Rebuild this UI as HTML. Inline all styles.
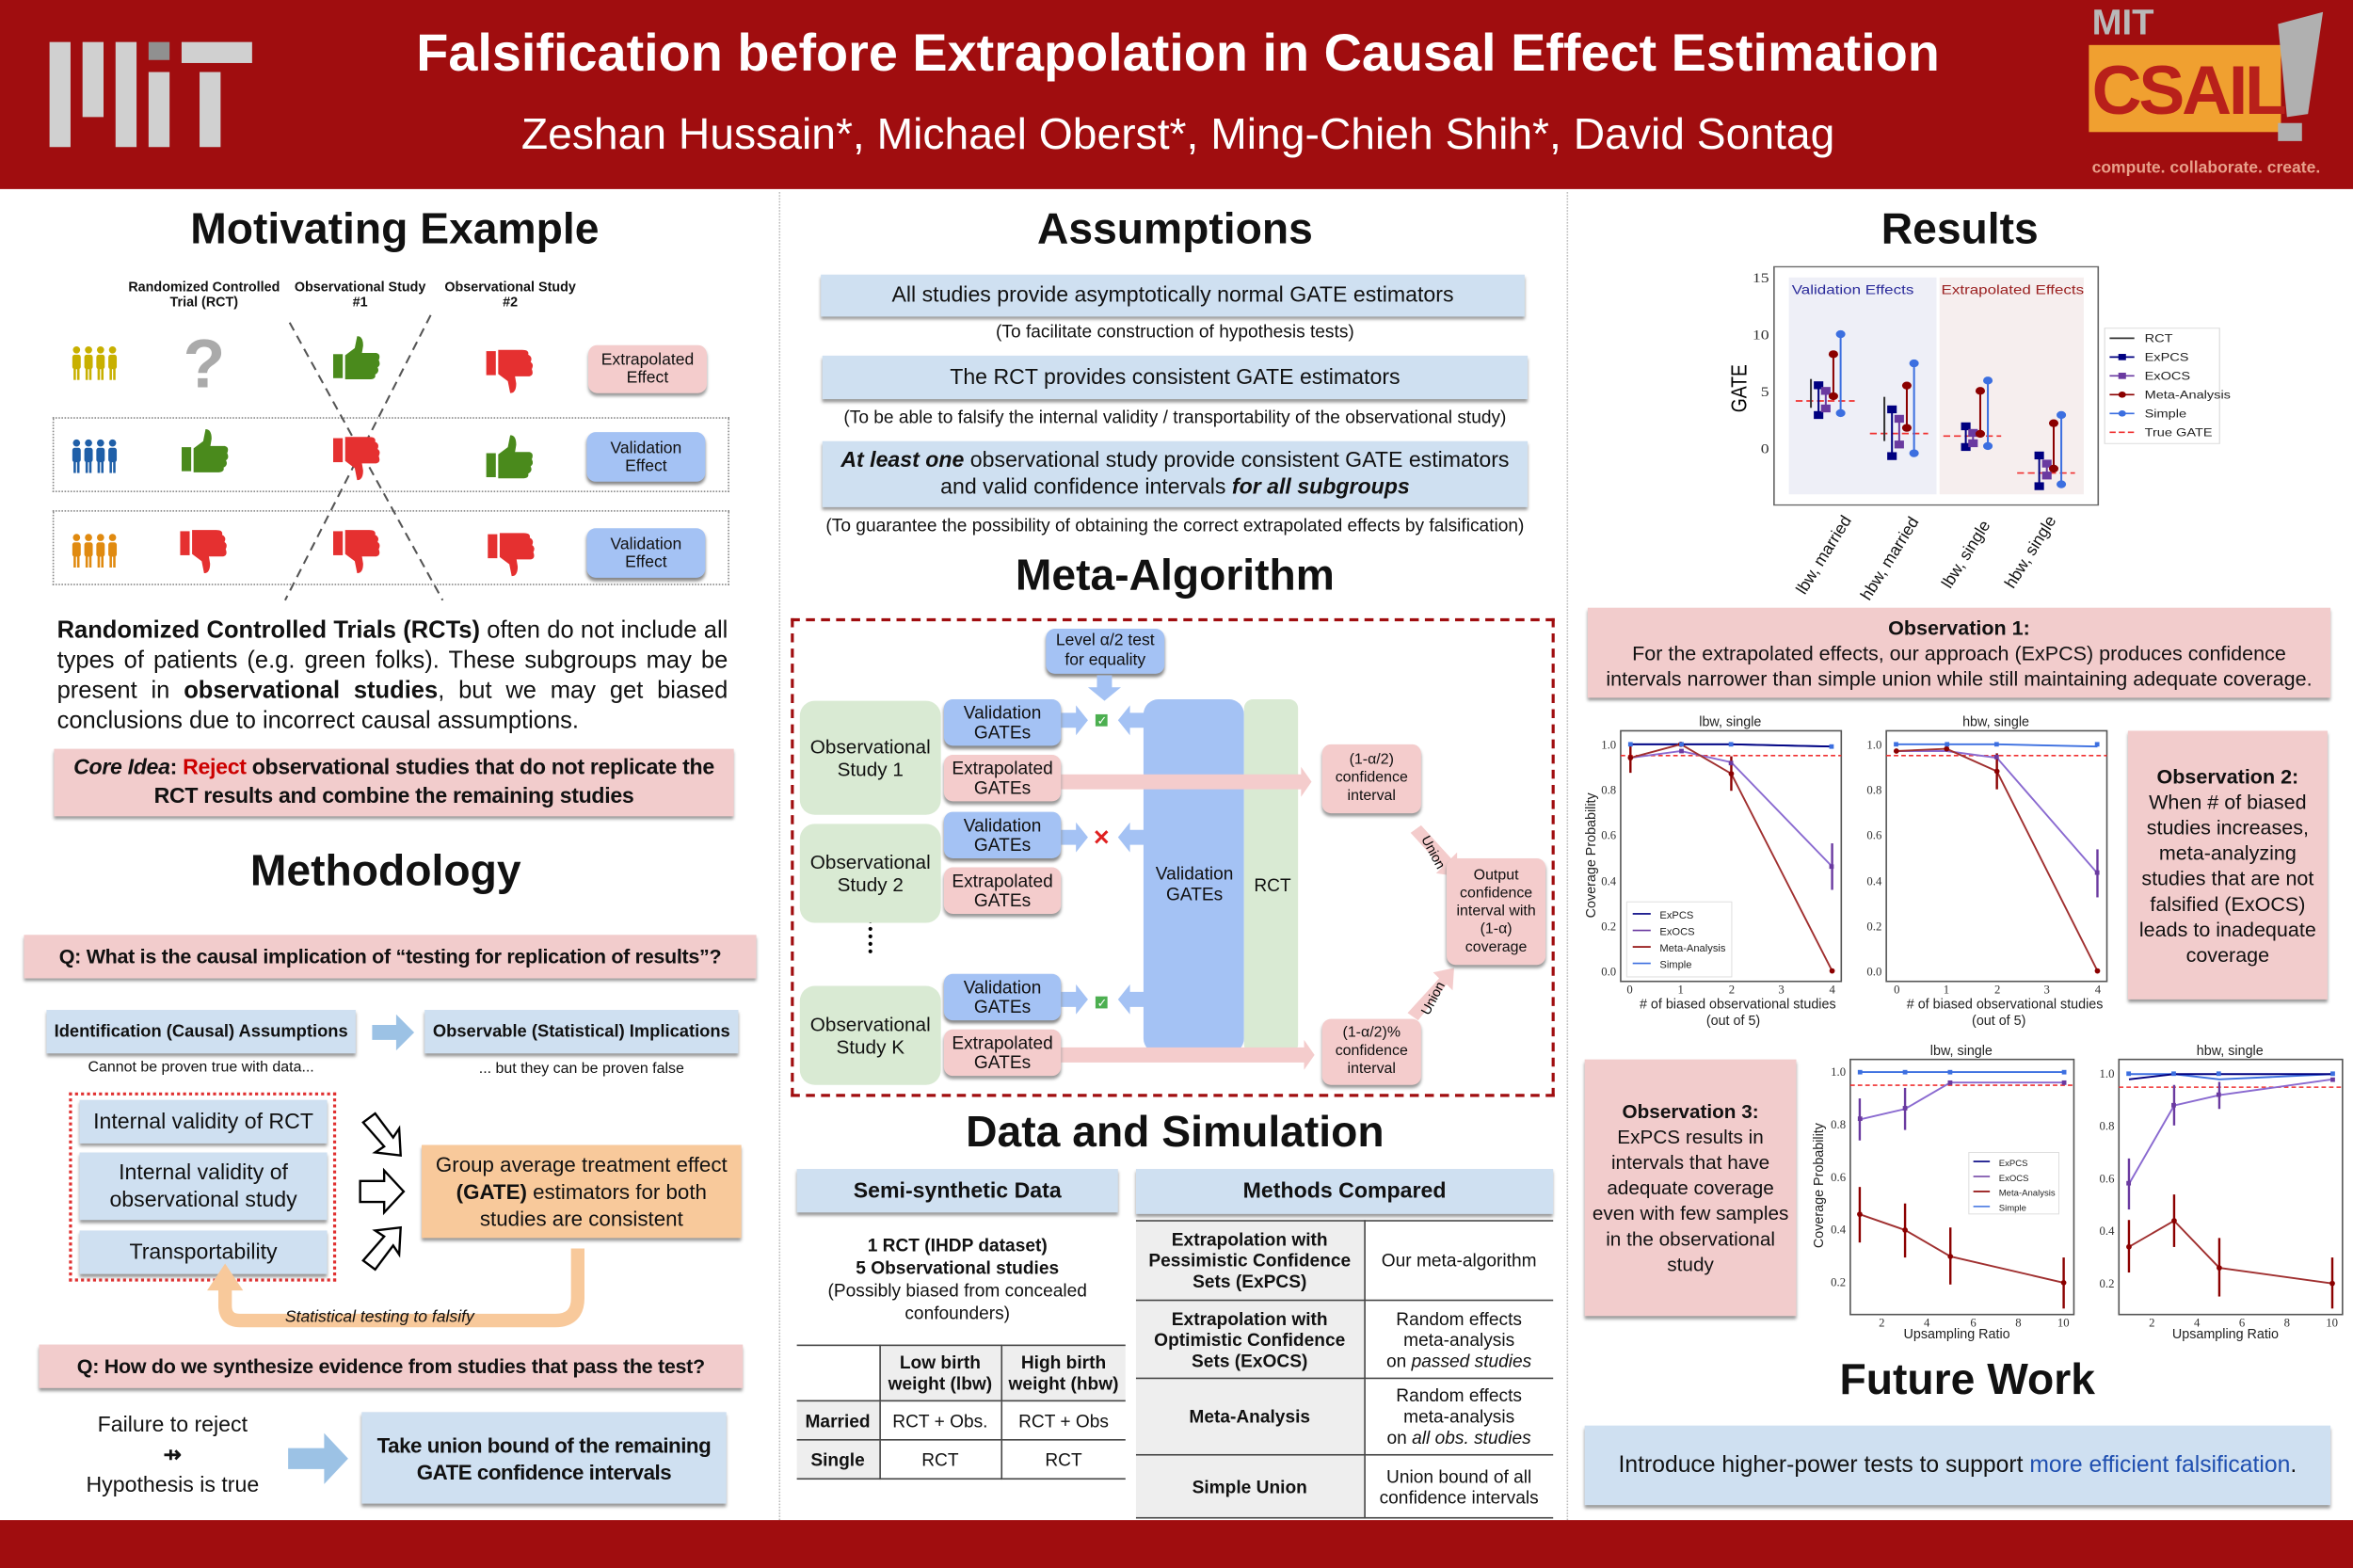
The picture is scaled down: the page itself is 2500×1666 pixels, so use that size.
<!DOCTYPE html>
<html><head><meta charset="utf-8"><style>
*{margin:0;padding:0;box-sizing:border-box}
html,body{width:2500px;height:1666px;overflow:hidden;background:#fff}
#w{position:absolute;left:0;top:0;width:1568px;height:1045px;transform:scale(1.594388);transform-origin:0 0;font-family:"Liberation Sans",sans-serif;color:#111}
.a{position:absolute}
.c{display:flex;align-items:center;justify-content:center;text-align:center}
.h{font-weight:bold;font-size:29px;text-align:center;position:absolute}
.bl{background:#cfe0f1;box-shadow:0 2px 2px #999}
.pk{background:#f2cccc;box-shadow:0 2px 2px #999}
.or{background:#f8c99b;box-shadow:0 2px 2px #999}
.gr{background:#d9ead3;border-radius:10px}
.b2{background:#a4c2f4;border-radius:6px;box-shadow:0 2px 2px #888}
.p2{background:#f4cccc;border-radius:6px;box-shadow:0 2px 2px #999}
.sm{font-size:12px}
table{border-collapse:collapse}
td{border:1px solid #444;text-align:center;font-size:12px}
</style></head><body><div id="w">
<svg width="0" height="0" style="position:absolute"><defs>
<symbol id="tu" viewBox="0 0 40 40"><rect x="0" y="15" width="8" height="20"/><path d="M10 16 L18 10 L20 0 Q25 0 25 8 L24 14 L36 14 Q40 15 38 20 Q40 24 37 26 Q39 30 35 32 Q36 36 30 36 L10 36 Z"/></symbol>
<symbol id="ppl" viewBox="0 0 40 30"><g><circle cx="5" cy="4" r="3"/><rect x="1.5" y="8" width="7" height="12" rx="2"/><rect x="2.5" y="18" width="2" height="11"/><rect x="5.5" y="18" width="2" height="11"/><circle cx="15" cy="4" r="3"/><rect x="11.5" y="8" width="7" height="12" rx="2"/><rect x="12.5" y="18" width="2" height="11"/><rect x="15.5" y="18" width="2" height="11"/><circle cx="25" cy="4" r="3"/><rect x="21.5" y="8" width="7" height="12" rx="2"/><rect x="22.5" y="18" width="2" height="11"/><rect x="25.5" y="18" width="2" height="11"/><circle cx="35" cy="4" r="3"/><rect x="31.5" y="8" width="7" height="12" rx="2"/><rect x="32.5" y="18" width="2" height="11"/><rect x="35.5" y="18" width="2" height="11"/></g></symbol>
</defs></svg>

<div class="a" style="left:0;top:0;width:1568px;height:126px;background:#a00d0f"></div>
<svg class="a" style="left:0;top:0" width="180" height="126">
<rect x="33" y="28" width="14" height="70" fill="#d0d0d0"/><rect x="55" y="28" width="14" height="50" fill="#d0d0d0"/><rect x="77" y="28" width="14" height="70" fill="#d0d0d0"/><rect x="99" y="28" width="14" height="12" fill="#909090"/><rect x="99" y="48" width="14" height="50" fill="#d0d0d0"/><rect x="121" y="28" width="47" height="14" fill="#d0d0d0"/><rect x="133" y="48" width="14" height="50" fill="#d0d0d0"/></svg>
<div class="a" style="left:200px;top:16px;width:1170px;text-align:center;color:#fff;font-weight:bold;font-size:35px">Falsification before Extrapolation in Causal Effect Estimation</div>
<div class="a" style="left:200px;top:74px;width:1170px;text-align:center;color:#fff;font-size:29px">Zeshan Hussain*, Michael Oberst*, Ming-Chieh Shih*, David Sontag</div>
<div class="a" style="left:1394px;top:2px;color:#b9b9b9;font-weight:bold;font-size:24px">MIT</div>
<div class="a" style="left:1392px;top:30px;width:128px;height:58px;background:#f0a030"></div>
<div class="a" style="left:1394px;top:33px;color:#b8201a;font-weight:bold;font-size:46px;letter-spacing:-2px">CSAIL</div>
<svg class="a" style="left:1510px;top:6px" width="40" height="90"><polygon points="8,10 38,2 28,70 14,72" fill="#b0b0b0"/><rect x="8" y="76" width="16" height="12" fill="#b0b0b0"/></svg>
<div class="a" style="left:1394px;top:106px;color:#e8a08a;font-size:11px;font-weight:bold">compute. collaborate. create.</div>

<div class="a" style="left:519px;top:128px;width:1px;height:885px;border-left:1px dotted #bbb"></div>
<div class="a" style="left:1044px;top:128px;width:1px;height:885px;border-left:1px dotted #bbb"></div>
<div class="a" style="left:0;top:1013px;width:1568px;height:32px;background:#a00d0f"></div>

<div class="h" style="left:0;top:137px;width:526px">Motivating Example</div>
<div class="a sm" style="left:84px;top:186px;width:104px;text-align:center;font-size:9px;font-weight:bold;line-height:10px">Randomized Controlled Trial (RCT)</div>
<div class="a sm" style="left:195px;top:186px;width:90px;text-align:center;font-size:9px;font-weight:bold;line-height:10px">Observational Study #1</div>
<div class="a sm" style="left:295px;top:186px;width:90px;text-align:center;font-size:9px;font-weight:bold;line-height:10px">Observational Study #2</div>
<div class="a" style="left:35px;top:278px;width:451px;height:50px;border:1px dotted #888"></div>
<div class="a" style="left:35px;top:340px;width:451px;height:50px;border:1px dotted #888"></div>
<svg class="a" style="left:0;top:200px" width="520" height="210">
<line x1="193" y1="15" x2="295" y2="200" stroke="#555" stroke-width="1.3" stroke-dasharray="6,4"/>
<line x1="287" y1="10" x2="190" y2="200" stroke="#555" stroke-width="1.3" stroke-dasharray="6,4"/>
<use href="#ppl" x="47" y="30" width="32" height="24" fill="#c8b000"/>
<use href="#ppl" x="47" y="92" width="32" height="24" fill="#1f5fa8"/>
<use href="#ppl" x="47" y="155" width="32" height="24" fill="#e08a10"/>
<text x="136" y="58" font-size="46" fill="#aaa" text-anchor="middle" font-family="Liberation Sans" font-weight="bold">?</text>
<use href="#tu" x="222" y="24" width="32" height="32" fill="#4a8a1c"/>
<use href="#tu" x="121" y="86" width="32" height="32" fill="#4a8a1c"/>
<use href="#tu" x="324" y="90" width="32" height="32" fill="#4a8a1c"/>
<g fill="#e53030">
<use href="#tu" x="324" y="30" width="32" height="32" transform="matrix(1,0,0,-1,0,92)"/>
<use href="#tu" x="222" y="88" width="32" height="32" transform="matrix(1,0,0,-1,0,208)"/>
<use href="#tu" x="120" y="150" width="32" height="32" transform="matrix(1,0,0,-1,0,332)"/>
<use href="#tu" x="222" y="150" width="32" height="32" transform="matrix(1,0,0,-1,0,332)"/>
<use href="#tu" x="325" y="152" width="32" height="32" transform="matrix(1,0,0,-1,0,336)"/>
</g></svg>
<div class="a c p2" style="left:392px;top:230px;width:79px;height:32px;font-size:11px;line-height:12px">Extrapolated<br>Effect</div>
<div class="a c b2" style="left:391px;top:288px;width:79px;height:33px;font-size:11px;line-height:12px">Validation<br>Effect</div>
<div class="a c b2" style="left:391px;top:352px;width:79px;height:33px;font-size:11px;line-height:12px">Validation<br>Effect</div>
<div class="a" style="left:38px;top:411px;width:447px;font-size:16px;line-height:20px;text-align:justify"><b>Randomized Controlled Trials (RCTs)</b> often do not include all types of patients (e.g. green folks). These subgroups may be present in <b>observational studies</b>, but we may get biased conclusions due to incorrect causal assumptions.</div>
<div class="a c pk" style="left:36px;top:499px;width:453px;height:45px;font-size:14.5px;line-height:19px;font-weight:bold;letter-spacing:-0.2px"><span><i>Core Idea</i>: <span style="color:#c00">Reject</span> observational studies that do not replicate the RCT results and combine the remaining studies</span></div>
<div class="h" style="left:0;top:565px;width:514px">Methodology</div>
<div class="a c pk" style="left:16px;top:623px;width:488px;height:29px;font-size:13.5px;font-weight:bold;letter-spacing:-0.2px;white-space:nowrap">Q: What is the causal implication of “testing for replication of results”?</div>
<div class="a c bl" style="left:31px;top:673px;width:206px;height:29px;font-size:11.5px;font-weight:bold">Identification (Causal) Assumptions</div>
<svg class="a" style="left:246px;top:676px" width="32" height="24"><polygon points="2,7 18,7 18,0 30,12 18,24 18,17 2,17" fill="#9cc2e5"/></svg>
<div class="a c bl" style="left:283px;top:673px;width:209px;height:29px;font-size:11.5px;font-weight:bold">Observable (Statistical) Implications</div>
<div class="a" style="left:31px;top:706px;width:206px;text-align:center;font-size:10px">Cannot be proven true with data...</div>
<div class="a" style="left:283px;top:707px;width:209px;text-align:center;font-size:10px">... but they can be proven false</div>
<div class="a" style="left:46px;top:728px;width:178px;height:126px;border:2px dotted #e03030"></div>
<div class="a c bl" style="left:53px;top:733px;width:165px;height:29px;font-size:14.5px">Internal validity of RCT</div>
<div class="a c bl" style="left:53px;top:768px;width:165px;height:45px;font-size:14.5px;line-height:18px">Internal validity of observational study</div>
<div class="a c bl" style="left:53px;top:820px;width:165px;height:29px;font-size:14.5px">Transportability</div>
<svg class="a" style="left:236px;top:740px" width="40" height="110">
<g fill="#fff" stroke="#000" stroke-width="1.5"><polygon points="6,8 14,2 26,18 30,12 31,30 14,28 20,24" /><polygon points="4,47 20,47 20,40 33,54 20,68 20,61 4,61"/><polygon points="6,100 14,106 26,90 30,96 31,78 14,80 20,84"/></g></svg>
<div class="a c or" style="left:281px;top:763px;width:213px;height:62px;font-size:14px;line-height:18px"><span>Group average treatment effect <b>(GATE)</b> estimators for both studies are consistent</span></div>
<svg class="a" style="left:130px;top:830px" width="270" height="60">
<path d="M255 2 L255 35 Q255 50 240 50 L30 50 Q20 50 20 40 L20 28" fill="none" stroke="#f8c99b" stroke-width="9"/>
<polygon points="8,30 20,12 32,30" fill="#f8c99b"/></svg>
<div class="a" style="left:190px;top:872px;font-size:11px;font-style:italic">Statistical testing to falsify</div>
<div class="a c pk" style="left:26px;top:896px;width:469px;height:29px;font-size:13.5px;font-weight:bold;letter-spacing:-0.2px;white-space:nowrap">Q: How do we synthesize evidence from studies that pass the test?</div>
<div class="a" style="left:40px;top:940px;width:150px;text-align:center;font-size:14.5px;line-height:20px">Failure to reject<br><b>⇸</b><br>Hypothesis is true</div>
<svg class="a" style="left:190px;top:955px" width="46" height="34"><polygon points="2,10 26,10 26,0 42,17 26,34 26,24 2,24" fill="#9cc2e5"/></svg>
<div class="a c bl" style="left:241px;top:941px;width:243px;height:61px;font-size:14px;line-height:18px;font-weight:bold;letter-spacing:-0.3px">Take union bound of the remaining<br>GATE confidence intervals</div>

<div class="h" style="left:522px;top:137px;width:522px">Assumptions</div>
<div class="a c bl" style="left:547px;top:183px;width:469px;height:28px;font-size:14.5px">All studies provide asymptotically normal GATE estimators</div>
<div class="a" style="left:522px;top:214px;width:522px;text-align:center;font-size:12px">(To facilitate construction of hypothesis tests)</div>
<div class="a c bl" style="left:548px;top:237px;width:470px;height:29px;font-size:14.5px">The RCT provides consistent GATE estimators</div>
<div class="a" style="left:522px;top:271px;width:522px;text-align:center;font-size:12px">(To be able to falsify the internal validity / transportability of the observational study)</div>
<div class="a c bl" style="left:548px;top:294px;width:470px;height:44px;font-size:14.5px;line-height:18px"><span><b><i>At least one</i></b> observational study provide consistent GATE estimators and valid confidence intervals <b><i>for all subgroups</i></b></span></div>
<div class="a" style="left:522px;top:343px;width:522px;text-align:center;font-size:12px">(To guarantee the possibility of obtaining the correct extrapolated effects by falsification)</div>
<div class="h" style="left:522px;top:368px;width:522px">Meta-Algorithm</div>
<div class="a" style="left:527px;top:412px;width:509px;height:319px;border:2.5px dashed #a00d0f"></div>
<div class="a c b2" style="left:697px;top:419px;width:79px;height:30px;font-size:11px;line-height:13px">Level α/2 test<br>for equality</div>
<svg class="a" style="left:527px;top:412px" width="509" height="319">
<polygon points="204,38 214,38 214,46 220,46 209,55 198,46 204,46" fill="#a4c2f4"/>
<g fill="#a4c2f4">
<polygon points="180,63 190,63 190,58 198,68 190,78 190,73 180,73"/><polygon points="236,63 226,63 226,58 218,68 226,78 226,73 236,73"/>
<polygon points="180,141 190,141 190,136 198,146 190,156 190,151 180,151"/><polygon points="236,141 226,141 226,136 218,146 226,156 226,151 236,151"/>
<polygon points="180,249 190,249 190,244 198,254 190,264 190,259 180,259"/><polygon points="236,249 226,249 226,244 218,254 226,264 226,259 236,259"/>
</g>
<rect x="235" y="54" width="67" height="236" rx="10" fill="#a4c2f4"/>
<rect x="302" y="54" width="36" height="236" rx="6" fill="#d9ead3"/>
<g fill="#f4cccc"><polygon points="170,104 340,104 340,99 347,109 340,119 340,114 170,114"/>
<polygon points="172,286 342,286 342,281 349,291 342,301 342,296 172,296"/>
<polygon points="413,143 420,138 440,160 444,156 444,172 430,170 434,166"/>
<polygon points="418,268 411,263 432,240 428,236 442,233 441,248 437,244"/></g>
<rect x="203" y="64" width="8" height="8" fill="#4caf50"/><text x="204" y="71" font-size="8" fill="#fff">✓</text>
<rect x="203" y="252" width="8" height="8" fill="#4caf50"/><text x="204" y="259" font-size="8" fill="#fff">✓</text>
<text x="207" y="151" font-size="14" fill="#e02020" text-anchor="middle" font-weight="bold">✕</text>
<g fill="#000"><circle cx="53" cy="202" r="1.3"/><circle cx="53" cy="207" r="1.3"/><circle cx="53" cy="212" r="1.3"/><circle cx="53" cy="217" r="1.3"/><circle cx="53" cy="222" r="1.3"/></g>
<text x="420" y="147" font-size="9" transform="rotate(62 420 147)">Union</text>
<text x="425" y="265" font-size="9" transform="rotate(-62 425 265)">Union</text>
</svg>
<div class="a c gr" style="left:533px;top:467px;width:94px;height:76px;font-size:13px;line-height:15px">Observational<br>Study 1</div>
<div class="a c gr" style="left:533px;top:549px;width:94px;height:66px;font-size:13px;line-height:15px">Observational<br>Study 2</div>
<div class="a c gr" style="left:533px;top:657px;width:94px;height:66px;font-size:13px;line-height:15px">Observational<br>Study K</div>
<div class="a c b2" style="left:629px;top:466px;width:78px;height:31px;font-size:12px;line-height:13px">Validation<br>GATEs</div>
<div class="a c p2" style="left:629px;top:503px;width:78px;height:31px;font-size:12px;line-height:13px">Extrapolated<br>GATEs</div>
<div class="a c b2" style="left:629px;top:541px;width:78px;height:31px;font-size:12px;line-height:13px">Validation<br>GATEs</div>
<div class="a c p2" style="left:629px;top:578px;width:78px;height:31px;font-size:12px;line-height:13px">Extrapolated<br>GATEs</div>
<div class="a c b2" style="left:629px;top:649px;width:78px;height:31px;font-size:12px;line-height:13px">Validation<br>GATEs</div>
<div class="a c p2" style="left:629px;top:686px;width:78px;height:31px;font-size:12px;line-height:13px">Extrapolated<br>GATEs</div>
<div class="a c" style="left:762px;top:575px;width:68px;font-size:12px;line-height:14px">Validation<br>GATEs</div>
<div class="a c" style="left:830px;top:583px;width:36px;font-size:12px">RCT</div>
<div class="a c p2" style="left:881px;top:496px;width:66px;height:46px;font-size:10px;line-height:12px">(1-α/2)<br>confidence<br>interval</div>
<div class="a c p2" style="left:881px;top:679px;width:66px;height:44px;font-size:10px;line-height:12px">(1-α/2)%<br>confidence<br>interval</div>
<div class="a c p2" style="left:964px;top:572px;width:66px;height:71px;font-size:10px;line-height:12px">Output<br>confidence<br>interval with<br>(1-α)<br>coverage</div>

<div class="h" style="left:522px;top:739px;width:522px">Data and Simulation</div>
<div class="a c bl" style="left:531px;top:779px;width:214px;height:29px;font-size:14.5px;font-weight:bold">Semi-synthetic Data</div>
<div class="a c bl" style="left:757px;top:779px;width:278px;height:30px;font-size:14.5px;font-weight:bold">Methods Compared</div>
<div class="a" style="left:531px;top:823px;width:214px;text-align:center;font-size:12px;line-height:15px"><b>1 RCT (IHDP dataset)<br>5 Observational studies</b><br>(Possibly biased from concealed confounders)</div>
<table class="a" style="left:531px;top:896px;width:219px;border-left:none;border-right:none">
<tr style="height:37px"><td style="border-left:none;width:55px"></td><td style="background:#eee;font-weight:bold;width:81px">Low birth weight (lbw)</td><td style="background:#eee;font-weight:bold;border-right:none">High birth weight (hbw)</td></tr>
<tr style="height:26px"><td style="border-left:none;background:#eee;font-weight:bold">Married</td><td>RCT + Obs.</td><td style="border-right:none">RCT + Obs</td></tr>
<tr style="height:26px"><td style="border-left:none;background:#eee;font-weight:bold">Single</td><td>RCT</td><td style="border-right:none">RCT</td></tr></table>
<table class="a" style="left:757px;top:813px;width:278px">
<tr style="height:53px"><td style="background:#eee;font-weight:bold;width:152px;border-left:none">Extrapolation with Pessimistic Confidence Sets (ExPCS)</td><td style="border-right:none">Our meta-algorithm</td></tr>
<tr style="height:52px"><td style="background:#eee;font-weight:bold;border-left:none">Extrapolation with Optimistic Confidence Sets (ExOCS)</td><td style="border-right:none">Random effects<br>meta-analysis<br>on <i>passed studies</i></td></tr>
<tr style="height:51px"><td style="background:#eee;font-weight:bold;border-left:none">Meta-Analysis</td><td style="border-right:none">Random effects<br>meta-analysis<br>on <i>all obs. studies</i></td></tr>
<tr style="height:42px"><td style="background:#eee;font-weight:bold;border-left:none">Simple Union</td><td style="border-right:none">Union bound of all confidence intervals</td></tr></table>

<div class="h" style="left:1046px;top:137px;width:520px">Results</div>
<svg class="a" style="left:1151px;top:169px" width="393" height="188" viewBox="0 0 1550 900" preserveAspectRatio="none">
<rect x="123" y="42" width="852" height="760" fill="#fff" stroke="#666" stroke-width="4"/>
<rect x="162" y="76" width="388" height="692" fill="#eeeff7"/><rect x="558" y="76" width="379" height="692" fill="#f6eeee"/>
<g font-family="Liberation Serif" font-size="44" fill="#333" text-anchor="end"><text x="110" y="92">15</text><text x="110" y="273">10</text><text x="110" y="455">5</text><text x="110" y="636">0</text></g>
<text x="330" y="130" font-size="42" fill="#2a2a9a" text-anchor="middle">Validation Effects</text>
<text x="750" y="130" font-size="42" fill="#9a2020" text-anchor="middle">Extrapolated Effects</text>
<text x="50" y="430" font-size="58" transform="rotate(-90 50 430)" text-anchor="middle">GATE</text>
<g stroke="#f03030" stroke-width="5" stroke-dasharray="18,10"><line x1="180" y1="470" x2="335" y2="470"/><line x1="375" y1="574" x2="528" y2="574"/><line x1="568" y1="582" x2="720" y2="582"/><line x1="762" y1="700" x2="914" y2="700"/></g>
<g stroke-width="5">
<g stroke="#333"><line x1="220" y1="400" x2="220" y2="492"/><line x1="413" y1="457" x2="413" y2="598"/></g>
<g stroke="#000080" fill="#000080"><line x1="240" y1="420" x2="240" y2="515"/><rect x="230" y="410" width="20" height="20"/><rect x="230" y="505" width="20" height="20"/><line x1="433" y1="497" x2="433" y2="646"/><rect x="423" y="487" width="20" height="20"/><rect x="423" y="636" width="20" height="20"/><line x1="627" y1="551" x2="627" y2="617"/><rect x="617" y="541" width="20" height="20"/><rect x="617" y="607" width="20" height="20"/><line x1="820" y1="644" x2="820" y2="742"/><rect x="810" y="634" width="20" height="20"/><rect x="810" y="732" width="20" height="20"/></g>
<g stroke="#6a3aa0" fill="#6a3aa0"><line x1="259" y1="438" x2="259" y2="494"/><rect x="249" y="428" width="20" height="20"/><rect x="249" y="484" width="20" height="20"/><line x1="452" y1="527" x2="452" y2="609"/><rect x="442" y="517" width="20" height="20"/><rect x="442" y="599" width="20" height="20"/><line x1="646" y1="572" x2="646" y2="605"/><rect x="636" y="562" width="20" height="20"/><rect x="636" y="595" width="20" height="20"/><line x1="840" y1="670" x2="840" y2="708"/><rect x="830" y="660" width="20" height="20"/><rect x="830" y="698" width="20" height="20"/></g>
<g stroke="#8b0000" fill="#8b0000"><line x1="279" y1="321" x2="279" y2="455"/><circle cx="279" cy="321" r="10"/><circle cx="279" cy="455" r="10"/><line x1="472" y1="421" x2="472" y2="556"/><circle cx="472" cy="421" r="10"/><circle cx="472" cy="556" r="10"/><line x1="665" y1="438" x2="665" y2="575"/><circle cx="665" cy="438" r="10"/><circle cx="665" cy="575" r="10"/><line x1="858" y1="541" x2="858" y2="686"/><circle cx="858" cy="541" r="10"/><circle cx="858" cy="686" r="10"/></g>
<g stroke="#3c6fe0" fill="#3c6fe0"><line x1="298" y1="257" x2="298" y2="509"/><circle cx="298" cy="257" r="10"/><circle cx="298" cy="509" r="10"/><line x1="491" y1="350" x2="491" y2="637"/><circle cx="491" cy="350" r="10"/><circle cx="491" cy="637" r="10"/><line x1="685" y1="405" x2="685" y2="614"/><circle cx="685" cy="405" r="10"/><circle cx="685" cy="614" r="10"/><line x1="878" y1="515" x2="878" y2="736"/><circle cx="878" cy="515" r="10"/><circle cx="878" cy="736" r="10"/></g>
</g>
<rect x="992" y="238" width="302" height="368" fill="#fff" stroke="#ddd" stroke-width="3"/>
<g stroke-width="5"><line x1="1005" y1="270" x2="1070" y2="270" stroke="#333"/><line x1="1005" y1="330" x2="1070" y2="330" stroke="#000080"/><line x1="1005" y1="390" x2="1070" y2="390" stroke="#6a3aa0"/><line x1="1005" y1="450" x2="1070" y2="450" stroke="#8b0000"/><line x1="1005" y1="510" x2="1070" y2="510" stroke="#3c6fe0"/><line x1="1005" y1="570" x2="1070" y2="570" stroke="#f03030" stroke-dasharray="16,8"/></g>
<rect x="1028" y="320" width="20" height="20" fill="#000080"/><rect x="1028" y="380" width="20" height="20" fill="#6a3aa0"/><circle cx="1038" cy="450" r="10" fill="#8b0000"/><circle cx="1038" cy="510" r="10" fill="#3c6fe0"/>
<g font-size="36" fill="#222"><text x="1097" y="283">RCT</text><text x="1097" y="343">ExPCS</text><text x="1097" y="403">ExOCS</text><text x="1097" y="463">Meta-Analysis</text><text x="1097" y="523">Simple</text><text x="1097" y="583">True GATE</text></g>
</svg>
<div class="a" style="left:1195px;top:392px;font-size:11px;transform:rotate(-58deg);transform-origin:0 0">lbw, married</div>
<div class="a" style="left:1238px;top:396px;font-size:11px;transform:rotate(-58deg);transform-origin:0 0">hbw, married</div>
<div class="a" style="left:1292px;top:388px;font-size:11px;transform:rotate(-58deg);transform-origin:0 0">lbw, single</div>
<div class="a" style="left:1334px;top:388px;font-size:11px;transform:rotate(-58deg);transform-origin:0 0">hbw, single</div>

<div class="a c pk" style="left:1058px;top:405px;width:495px;height:60px;font-size:13.5px;line-height:17px"><span><b>Observation 1:</b><br>For the extrapolated effects, our approach (ExPCS) produces confidence<br>intervals narrower than simple union while still maintaining adequate coverage.</span></div>

<svg class="a" style="left:1046px;top:470px" width="522" height="430" viewBox="1046 470 522 430" font-family="Liberation Serif">
<g fill="none" stroke="#555" stroke-width="1"><rect x="1080" y="487" width="147" height="167"/><rect x="1257" y="487" width="147" height="167"/><rect x="1233" y="706" width="149" height="170"/><rect x="1412" y="706" width="149" height="170"/></g>
<g font-size="8" fill="#333" text-anchor="end">
<text x="1077" y="499">1.0</text><text x="1077" y="529">0.8</text><text x="1077" y="559">0.6</text><text x="1077" y="590">0.4</text><text x="1077" y="620">0.2</text><text x="1077" y="650">0.0</text>
<text x="1254" y="499">1.0</text><text x="1254" y="529">0.8</text><text x="1254" y="559">0.6</text><text x="1254" y="590">0.4</text><text x="1254" y="620">0.2</text><text x="1254" y="650">0.0</text>
<text x="1230" y="717">1.0</text><text x="1230" y="752">0.8</text><text x="1230" y="787">0.6</text><text x="1230" y="822">0.4</text><text x="1230" y="857">0.2</text>
<text x="1409" y="718">1.0</text><text x="1409" y="753">0.8</text><text x="1409" y="788">0.6</text><text x="1409" y="823">0.4</text><text x="1409" y="858">0.2</text></g>
<g font-size="8" fill="#333" text-anchor="middle">
<text x="1086" y="662">0</text><text x="1120" y="662">1</text><text x="1154" y="662">2</text><text x="1187" y="662">3</text><text x="1221" y="662">4</text>
<text x="1264" y="662">0</text><text x="1297" y="662">1</text><text x="1331" y="662">2</text><text x="1364" y="662">3</text><text x="1398" y="662">4</text>
<text x="1254" y="884">2</text><text x="1284" y="884">4</text><text x="1315" y="884">6</text><text x="1345" y="884">8</text><text x="1375" y="884">10</text>
<text x="1434" y="884">2</text><text x="1464" y="884">4</text><text x="1494" y="884">6</text><text x="1524" y="884">8</text><text x="1554" y="884">10</text></g>
<g font-size="9" font-family="Liberation Sans" fill="#222" text-anchor="middle">
<text x="1153" y="484">lbw, single</text><text x="1330" y="484">hbw, single</text><text x="1307" y="703">lbw, single</text><text x="1486" y="703">hbw, single</text>
<text x="1158" y="672">#  of biased observational studies</text><text x="1155" y="683">(out of 5)</text>
<text x="1336" y="672">#  of biased observational studies</text><text x="1332" y="683">(out of 5)</text>
<text x="1304" y="892">Upsampling Ratio</text><text x="1483" y="892">Upsampling Ratio</text>
<text x="1063" y="570" transform="rotate(-90 1063 570)">Coverage Probability</text>
<text x="1215" y="790" transform="rotate(-90 1215 790)">Coverage Probability</text></g>
<g stroke="#f03030" stroke-width="1" stroke-dasharray="3,2"><line x1="1080" y1="503.5" x2="1227" y2="503.5"/><line x1="1257" y1="503.5" x2="1404" y2="503.5"/><line x1="1233" y1="723.2" x2="1382" y2="723.2"/><line x1="1412" y1="724.5" x2="1561" y2="724.5"/></g>
<g fill="none" stroke-width="1.2">
<polyline stroke="#3c6fe0" points="1086.5,496 1120.1,496 1153.7,496 1220.9,497.5"/><polyline stroke="#000080" points="1086.5,496 1120.1,496 1153.7,496 1220.9,497.5"/>
<polyline stroke="#8a6ad0" points="1086.5,505 1120.1,500.5 1153.7,508 1220.9,577.5"/>
<polyline stroke="#a03030" points="1086.5,505 1120.1,496 1153.7,515.6 1220.9,647"/>
<polyline stroke="#3c6fe0" points="1263.7,496 1297.2,496 1330.7,496 1397.7,497.5"/>
<polyline stroke="#8a6ad0" points="1263.7,500.5 1297.2,500.5 1330.7,505 1397.7,582"/>
<polyline stroke="#a03030" points="1263.7,500.5 1297.2,499 1330.7,514 1397.7,647"/>
<polyline stroke="#3c6fe0" points="1239.3,714.4 1269.5,714.4 1299.7,714.4 1375.2,714.4"/>
<polyline stroke="#8a6ad0" points="1239.3,746 1269.5,739 1299.7,721.4 1375.2,721.4"/>
<polyline stroke="#a03030" points="1239.3,809.2 1269.5,819.7 1299.7,837.3 1375.2,854.8"/>
<polyline stroke="#3c6fe0" points="1418.7,715.8 1448.8,715.8 1478.9,719.3 1554.2,715.8"/><polyline stroke="#000080" points="1418.7,719.3 1448.8,715.8 1478.9,715.8 1554.2,715.8"/>
<polyline stroke="#8a6ad0" points="1418.7,789 1448.8,736.7 1478.9,729.8 1554.2,719.3"/>
<polyline stroke="#a03030" points="1418.7,830.9 1448.8,813.5 1478.9,844.9 1554.2,855.3"/></g>
<g stroke-width="1.5">
<g stroke="#6a3aa0"><line x1="1220.9" y1="562" x2="1220.9" y2="593"/><line x1="1397.7" y1="566" x2="1397.7" y2="598"/><line x1="1239.3" y1="732" x2="1239.3" y2="760"/><line x1="1269.5" y1="725" x2="1269.5" y2="753"/><line x1="1418.7" y1="772" x2="1418.7" y2="806"/><line x1="1448.8" y1="723" x2="1448.8" y2="750"/><line x1="1478.9" y1="721" x2="1478.9" y2="739"/></g>
<g stroke="#8b0000"><line x1="1086.5" y1="495" x2="1086.5" y2="515"/><line x1="1153.7" y1="504" x2="1153.7" y2="527"/><line x1="1330.7" y1="502" x2="1330.7" y2="526"/><line x1="1239.3" y1="791" x2="1239.3" y2="828"/><line x1="1269.5" y1="802" x2="1269.5" y2="838"/><line x1="1299.7" y1="818" x2="1299.7" y2="856"/><line x1="1375.2" y1="838" x2="1375.2" y2="872"/><line x1="1418.7" y1="813" x2="1418.7" y2="848"/><line x1="1448.8" y1="796" x2="1448.8" y2="831"/><line x1="1478.9" y1="825" x2="1478.9" y2="864"/><line x1="1554.2" y1="838" x2="1554.2" y2="872"/></g></g>
<g fill="#8b0000"><circle cx="1086.5" cy="505" r="1.8"/><circle cx="1120.1" cy="496" r="1.8"/><circle cx="1153.7" cy="515.6" r="1.8"/><circle cx="1220.9" cy="647" r="1.8"/><circle cx="1263.7" cy="500.5" r="1.8"/><circle cx="1297.2" cy="499" r="1.8"/><circle cx="1330.7" cy="514" r="1.8"/><circle cx="1397.7" cy="647" r="1.8"/><circle cx="1239.3" cy="809.2" r="1.8"/><circle cx="1269.5" cy="819.7" r="1.8"/><circle cx="1299.7" cy="837.3" r="1.8"/><circle cx="1375.2" cy="854.8" r="1.8"/><circle cx="1418.7" cy="830.9" r="1.8"/><circle cx="1448.8" cy="813.5" r="1.8"/><circle cx="1478.9" cy="844.9" r="1.8"/><circle cx="1554.2" cy="855.3" r="1.8"/></g>
<g fill="#6a3aa0"><rect x="1119" y="499" width="3" height="3"/><rect x="1152" y="507" width="3" height="3"/><rect x="1219" y="576" width="3" height="3"/><rect x="1329" y="503" width="3" height="3"/><rect x="1396" y="580" width="3" height="3"/><rect x="1238" y="744" width="3" height="3"/><rect x="1268" y="737" width="3" height="3"/><rect x="1298" y="720" width="3" height="3"/><rect x="1374" y="720" width="3" height="3"/><rect x="1417" y="787" width="3" height="3"/><rect x="1447" y="735" width="3" height="3"/><rect x="1477" y="728" width="3" height="3"/><rect x="1553" y="718" width="3" height="3"/></g>
<g fill="#3c6fe0"><rect x="1085" y="494.5" width="3" height="3"/><rect x="1119" y="494.5" width="3" height="3"/><rect x="1152" y="494.5" width="3" height="3"/><rect x="1219" y="496" width="3" height="3"/><rect x="1262" y="494.5" width="3" height="3"/><rect x="1296" y="494.5" width="3" height="3"/><rect x="1329" y="494.5" width="3" height="3"/><rect x="1396" y="494.5" width="3" height="3"/><rect x="1238" y="713" width="3" height="3"/><rect x="1268" y="713" width="3" height="3"/><rect x="1298" y="713" width="3" height="3"/><rect x="1374" y="713" width="3" height="3"/><rect x="1417" y="714" width="3" height="3"/><rect x="1447" y="714" width="3" height="3"/><rect x="1477" y="714" width="3" height="3"/><rect x="1553" y="714" width="3" height="3"/></g>
<g><rect x="1084" y="601" width="70" height="50" fill="#fff" stroke="#ddd" stroke-width="0.6"/><rect x="1312" y="768" width="60" height="41" fill="#fff" stroke="#ddd" stroke-width="0.6"/>
<g stroke-width="1"><line x1="1088" y1="609" x2="1100" y2="609" stroke="#000080"/><line x1="1088" y1="620" x2="1100" y2="620" stroke="#6a3aa0"/><line x1="1088" y1="631" x2="1100" y2="631" stroke="#8b0000"/><line x1="1088" y1="642" x2="1100" y2="642" stroke="#3c6fe0"/>
<line x1="1315" y1="774" x2="1326" y2="774" stroke="#000080"/><line x1="1315" y1="784" x2="1326" y2="784" stroke="#6a3aa0"/><line x1="1315" y1="794" x2="1326" y2="794" stroke="#8b0000"/><line x1="1315" y1="804" x2="1326" y2="804" stroke="#3c6fe0"/></g>
<g font-family="Liberation Sans" font-size="7" fill="#222"><text x="1106" y="612">ExPCS</text><text x="1106" y="623">ExOCS</text><text x="1106" y="634">Meta-Analysis</text><text x="1106" y="645">Simple</text>
<text x="1332" y="777" font-size="6">ExPCS</text><text x="1332" y="787" font-size="6">ExOCS</text><text x="1332" y="797" font-size="6">Meta-Analysis</text><text x="1332" y="807" font-size="6">Simple</text></g></g>
</svg>
<div class="a c pk" style="left:1418px;top:487px;width:133px;height:179px;font-size:13.5px;line-height:17px"><span><b>Observation 2:</b><br>When # of biased studies increases, meta-analyzing studies that are not falsified (ExOCS) leads to inadequate coverage</span></div>
<div class="a c pk" style="left:1056px;top:706px;width:141px;height:171px;font-size:13px;line-height:17px"><span><b>Observation 3:</b><br>ExPCS results in intervals that have adequate coverage even with few samples in the observational study</span></div>
<div class="h" style="left:1056px;top:904px;width:510px">Future Work</div>
<div class="a c bl" style="left:1056px;top:950px;width:497px;height:53px;font-size:15.5px">Introduce higher-power tests to support&nbsp;<span style="color:#1f4fb0">more efficient falsification</span>.</div>
</div></body></html>
